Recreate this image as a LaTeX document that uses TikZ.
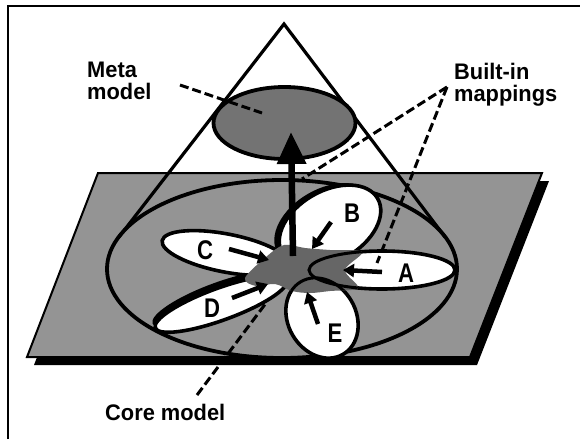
\documentclass[tikz,border=0pt]{standalone}
\usepackage{fontspec}
\setmainfont{Liberation Sans}
\usetikzlibrary{arrows.meta}
\newcommand\cnd[1]{\scalebox{0.97}[1]{#1}}
\newcommand\cndl[1]{\scalebox{0.82}[1]{#1}}
\begin{document}
\begin{tikzpicture}[x=1pt,y=-1pt,
  lbl/.style={font=\bfseries\fontsize{22.5}{22}\selectfont, align=left, inner sep=0pt},
  ltr/.style={font=\bfseries\fontsize{27}{27}\selectfont, inner sep=0pt},
  petal/.style={draw=black, line width=3.6pt, fill=white},
  maparrow/.style={line width=4.5pt, -{Triangle[length=11pt,width=13pt]}},
  bigarrow/.style={line width=6.5pt, -{Triangle[length=32pt,width=28pt]}},
  dashline/.style={line width=3pt, dash pattern=on 9pt off 4pt},
  conel/.style={line width=3.2pt, line cap=round},
  halftone/.style={fill=black!42},
  darktone/.style={fill=black!55}]
\useasboundingbox (0,0) rectangle (580,439);
% frame
\draw[line width=2pt] (8,439) -- (8,6) -- (580,6);
% plane with shadow
\fill[black] (105,181) -- (549,181) -- (477,365) -- (34,365) -- cycle;
\draw[halftone, draw=black, line width=2pt] (98,173) -- (542,173) -- (470,357) -- (27,357) -- cycle;
% big ellipse
\coordinate (bigc) at (282,269);
\draw[line width=3.8pt] (bigc) ellipse [x radius=175, y radius=89];
% cone
\coordinate (apex) at (284,24);
\coordinate (tl) at (119,237);
\coordinate (tr) at (445,237);
\draw[conel] (tl) -- (apex) -- (tr);
% meta ellipse
\coordinate (metac) at (284.5,123);
\draw[darktone, draw=black, line width=3.8pt] (metac) ellipse [x radius=71, y radius=36];
% petals
\fill[black, rotate around={30:(326,225)}] (326,225) ellipse [x radius=56, y radius=36];
\draw[petal, rotate around={30:(330,226)}] (330,226) ellipse [x radius=55, y radius=35];
\draw[petal] (382,270) ellipse [x radius=73, y radius=19];
\draw[petal, rotate around={-60:(322,318)}] (322,318) ellipse [x radius=42, y radius=34];
\draw[petal, rotate around={-11:(226,253)}] (226,253) ellipse [x radius=65, y radius=19];
\fill[black, rotate around={20:(219.3,299.3)}] (219.3,299.3) ellipse [x radius=71, y radius=17];
\draw[petal, rotate around={20:(221,304)}] (221,304) ellipse [x radius=70, y radius=16];
% core model
\def\coreshape{plot[smooth cycle, tension=0.55] coordinates {(245,278) (266,257) (284,245) (305,248) (330,250) (362,252) (345,270) (358,288) (330,291) (310,293) (292,291) (275,284) (256,286)}}
\fill[black!60] \coreshape;
\begin{scope}
\clip \coreshape;
\draw[line width=3pt] (382,270) ellipse [x radius=73, y radius=19];
\draw[line width=3pt, rotate around={-60:(322,318)}] (322,318) ellipse [x radius=42, y radius=34];
\end{scope}
% main arrow
\coordinate (corec) at (293,256);
\coordinate (metatip) at (291,132);
\draw[bigarrow] (corec) -- (metatip);
% mapping arrows
\coordinate (cA1) at (382,272); \coordinate (cA2) at (343,270);
\coordinate (cB1) at (331,222); \coordinate (cB2) at (312,249);
\coordinate (cC1) at (229,249); \coordinate (cC2) at (269,260);
\coordinate (cD1) at (232,298); \coordinate (cD2) at (268,284);
\coordinate (cE1) at (318,324); \coordinate (cE2) at (307,292);
\draw[maparrow] (cA1) -- (cA2);
\draw[maparrow] (cB1) -- (cB2);
\draw[maparrow] (cC1) -- (cC2);
\draw[maparrow] (cD1) -- (cD2);
\draw[maparrow] (cE1) -- (cE2);
% letters
\node[ltr] (lA) at (406,273) {\cndl{A}};
\node[ltr] (lB) at (352,213) {\cndl{B}};
\node[ltr] (lC) at (205,250) {\cndl{C}};
\node[ltr] (lD) at (212,308) {\cndl{D}};
\node[ltr] (lE) at (335,333) {\cndl{E}};
% labels
\node[lbl, anchor=north west] (meta) at (87,62) {\cnd{Meta}\\\cnd{model}};
\node[lbl, anchor=north west] (built) at (454,63) {\cnd{Built-in}\\\cnd{mappings}};
\node[lbl, anchor=base west] (core) at (105,420) {\cnd{Core model}};
% dashed pointer lines
\coordinate (metaend) at (262,113);
\coordinate (metastart) at (180,85);
\coordinate (bstart) at (447,87);
\coordinate (bend1) at (302,179);
\coordinate (bend2) at (377,263);
\coordinate (cstart) at (197,395);
\coordinate (cend) at (266,303);
\draw[dashline] (metastart) -- (metaend);
\draw[dashline] (bstart) -- (bend1);
\draw[dashline] (bstart) -- (bend2);
\draw[dashline] (cstart) -- (cend);
\end{tikzpicture}
\end{document}
